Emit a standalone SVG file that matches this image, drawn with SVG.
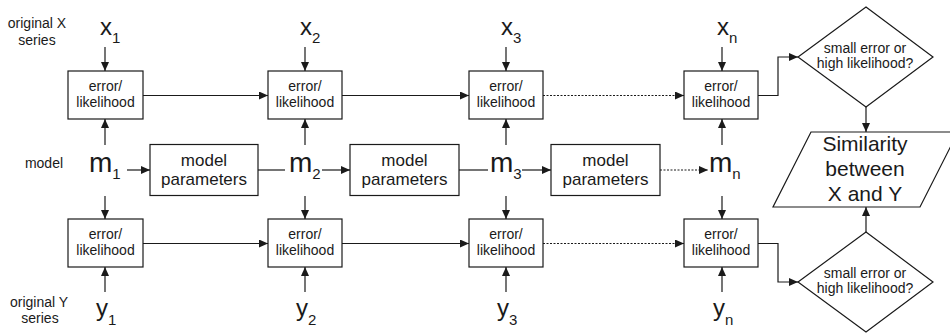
<svg xmlns="http://www.w3.org/2000/svg" width="950" height="336" viewBox="0 0 950 336">
<defs>
<marker id="ah" markerUnits="userSpaceOnUse" markerWidth="10" markerHeight="8" refX="9" refY="4" orient="auto">
<path d="M0,0 L9,4 L0,8 Z" fill="#1a1a1a"/>
</marker>
</defs>
<style>
text{font-family:"Liberation Sans",Arial,sans-serif;fill:#1a1a1a}
.box{fill:#fff;stroke:#1a1a1a;stroke-width:1.2}
.ln{fill:none;stroke:#1a1a1a;stroke-width:1.2}
.ar{fill:none;stroke:#1a1a1a;stroke-width:1.2;marker-end:url(#ah)}
.dot{stroke-dasharray:2,1.5}
.bt{font-size:14px;text-anchor:middle}
.pt{font-size:17px;text-anchor:middle}
.lab{font-size:14px;text-anchor:middle}
.big{font-size:24px}
.mb{font-size:28px}
.sub{font-size:15px}
.sim{font-size:21px;text-anchor:middle}
</style>
<rect width="950" height="336" fill="#fff"/>
<g id="labels">
<text class="lab" x="37" y="28">original X</text>
<text class="lab" x="37" y="45">series</text>
<text class="lab" x="44" y="168">model</text>
<text class="lab" x="39" y="307">original Y</text>
<text class="lab" x="40" y="323">series</text>
</g>
<g id="connectors">
<line class="ar" x1="105" y1="47" x2="105" y2="71"/>
<line class="ar" x1="305" y1="47" x2="305" y2="71"/>
<line class="ar" x1="506" y1="47" x2="506" y2="71"/>
<line class="ar" x1="722" y1="47" x2="722" y2="71"/>
<line class="ar" x1="105" y1="145" x2="105" y2="119"/>
<line class="ar" x1="305" y1="145" x2="305" y2="119"/>
<line class="ar" x1="506" y1="145" x2="506" y2="119"/>
<line class="ar" x1="722" y1="145" x2="722" y2="119"/>
<line class="ar" x1="105" y1="196" x2="105" y2="219"/>
<line class="ar" x1="305" y1="196" x2="305" y2="219"/>
<line class="ar" x1="506" y1="196" x2="506" y2="219"/>
<line class="ar" x1="722" y1="196" x2="722" y2="219"/>
<line class="ar" x1="105" y1="292" x2="105" y2="267"/>
<line class="ar" x1="305" y1="292" x2="305" y2="267"/>
<line class="ar" x1="506" y1="292" x2="506" y2="267"/>
<line class="ar" x1="722" y1="292" x2="722" y2="267"/>
<line class="ar" x1="143" y1="95.5" x2="268" y2="95.5"/>
<line class="ar" x1="342" y1="95.5" x2="469" y2="95.5"/>
<line class="ar dot" x1="543" y1="95.5" x2="684" y2="95.5"/>
<line class="ar" x1="143" y1="243.5" x2="268" y2="243.5"/>
<line class="ar" x1="342" y1="243.5" x2="469" y2="243.5"/>
<line class="ar dot" x1="543" y1="243.5" x2="684" y2="243.5"/>
<line class="ar" x1="127" y1="170" x2="150" y2="170"/>
<line class="ln" x1="258" y1="170" x2="285" y2="170"/>
<line class="ar" x1="322" y1="170" x2="350" y2="170"/>
<line class="ln" x1="459" y1="170" x2="488" y2="170"/>
<line class="ar" x1="522" y1="170" x2="551" y2="170"/>
<line class="ar dot" x1="660" y1="170" x2="708" y2="170"/>
<polyline class="ar" points="758,95.5 778,95.5 778,57 798,57"/>
<polyline class="ar" points="758,243.5 778,243.5 778,282 798,282"/>
<line class="ar" x1="866" y1="107" x2="866" y2="132"/>
<line class="ar" x1="866" y1="232" x2="866" y2="207"/>
</g>
<g id="x1"><text class="big" x="100" y="35">x<tspan class="sub" dy="8">1</tspan></text></g>
<g id="x2"><text class="big" x="300" y="35">x<tspan class="sub" dy="8">2</tspan></text></g>
<g id="x3"><text class="big" x="501" y="35">x<tspan class="sub" dy="8">3</tspan></text></g>
<g id="xn"><text class="big" x="717" y="35">x<tspan class="sub" dy="8">n</tspan></text></g>
<g id="m1"><text class="mb" x="89" y="172">m<tspan class="sub" dy="7">1</tspan></text></g>
<g id="m2"><text class="mb" x="289" y="172">m<tspan class="sub" dy="7">2</tspan></text></g>
<g id="m3"><text class="mb" x="490" y="172">m<tspan class="sub" dy="7">3</tspan></text></g>
<g id="mn"><text class="mb" x="709" y="172">m<tspan class="sub" dy="7">n</tspan></text></g>
<g id="y1"><text class="big" x="96" y="316">y<tspan class="sub" dy="9">1</tspan></text></g>
<g id="y2"><text class="big" x="296" y="316">y<tspan class="sub" dy="9">2</tspan></text></g>
<g id="y3"><text class="big" x="497" y="316">y<tspan class="sub" dy="9">3</tspan></text></g>
<g id="yn"><text class="big" x="713" y="316">y<tspan class="sub" dy="9">n</tspan></text></g>
<g id="ex1"><rect class="box" x="68" y="71" width="75" height="48"/><text class="bt" x="105.5" y="91">error/</text><text class="bt" x="105.5" y="107">likelihood</text></g>
<g id="ex2"><rect class="box" x="268" y="71" width="74" height="48"/><text class="bt" x="305" y="91">error/</text><text class="bt" x="305" y="107">likelihood</text></g>
<g id="ex3"><rect class="box" x="469" y="71" width="74" height="48"/><text class="bt" x="506" y="91">error/</text><text class="bt" x="506" y="107">likelihood</text></g>
<g id="exn"><rect class="box" x="684" y="71" width="74" height="48"/><text class="bt" x="721" y="91">error/</text><text class="bt" x="721" y="107">likelihood</text></g>
<g id="ey1"><rect class="box" x="68" y="219" width="75" height="48"/><text class="bt" x="105.5" y="239">error/</text><text class="bt" x="105.5" y="255">likelihood</text></g>
<g id="ey2"><rect class="box" x="268" y="219" width="74" height="48"/><text class="bt" x="305" y="239">error/</text><text class="bt" x="305" y="255">likelihood</text></g>
<g id="ey3"><rect class="box" x="469" y="219" width="74" height="48"/><text class="bt" x="506" y="239">error/</text><text class="bt" x="506" y="255">likelihood</text></g>
<g id="eyn"><rect class="box" x="684" y="219" width="74" height="48"/><text class="bt" x="721" y="239">error/</text><text class="bt" x="721" y="255">likelihood</text></g>
<g id="p1"><rect class="box" x="150" y="144.5" width="108" height="51"/><text class="pt" x="204" y="166">model</text><text class="pt" x="204" y="185">parameters</text></g>
<g id="p2"><rect class="box" x="350" y="144.5" width="109" height="51"/><text class="pt" x="404.5" y="166">model</text><text class="pt" x="404.5" y="185">parameters</text></g>
<g id="p3"><rect class="box" x="551" y="144.5" width="109" height="51"/><text class="pt" x="605.5" y="166">model</text><text class="pt" x="605.5" y="185">parameters</text></g>
<g id="d1"><polygon class="box" points="866,7 933,57 866,107 798,57"/><text class="bt" x="865" y="53">small error or</text><text class="bt" x="865" y="68">high likelihood?</text></g>
<g id="d2"><polygon class="box" points="866,232 933,282 866,332 798,282"/><text class="bt" x="865" y="278">small error or</text><text class="bt" x="865" y="293">high likelihood?</text></g>
<g id="sim"><polygon class="box" points="811,132 958,132 920,207 773,207"/><text class="sim" x="865" y="151">Similarity</text><text class="sim" x="865" y="176">between</text><text class="sim" x="865" y="201">X and Y</text></g>
</svg>
